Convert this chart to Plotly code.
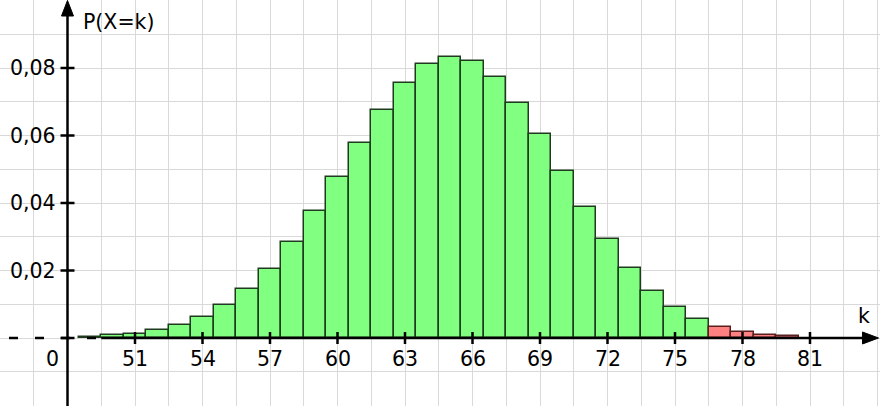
import plotly.graph_objects as go

# ---- data ----
k_green = [49, 50, 51, 52, 53, 54, 55, 56, 57, 58, 59, 60, 61, 62, 63, 64, 65, 66,
           67, 68, 69, 70, 71, 72, 73, 74, 75, 76]
p_green = [0.0004, 0.0008, 0.0013, 0.0024, 0.0040, 0.0063, 0.0097, 0.0144, 0.0205,
           0.0284, 0.0375, 0.0478, 0.0577, 0.0675, 0.0756, 0.0811, 0.0834, 0.0821,
           0.0773, 0.0697, 0.0603, 0.0496, 0.0389, 0.0292, 0.0206, 0.0140, 0.0091,
           0.0056]
k_red = [77, 78, 79, 80]
p_red = [0.0034, 0.0018, 0.0010, 0.0005]

x_ticks = [51, 54, 57, 60, 63, 66, 69, 72, 75, 78, 81]
x_tick_labels = [str(v) for v in x_ticks]
y_ticks = [0.02, 0.04, 0.06, 0.08]
y_tick_labels = ["0,02", "0,04", "0,06", "0,08"]
origin_label = "0"
x_title = "k"
y_title = "P(X=k)"

# ---- geometry (pixel scale of the reference) ----
W, H = 880, 406
px_per_k = 22.5
px_per_p = 3375.0
x_min = 45.0
x_max = x_min + W / px_per_k
y_max = 338.0 / px_per_p
y_min = -(H - 338.0) / px_per_p
y_axis_k = 48.0      # where the (broken) vertical axis sits
solid_start_k = 49.5

FONT = "DejaVu Sans"
fs = 20.5

fig = go.Figure()
fig.add_trace(go.Bar(x=k_green, y=p_green, width=1,
                     marker=dict(color="#80FF80", line=dict(color="#1f3a1f", width=1.5)),
                     hoverinfo="x+y"))
fig.add_trace(go.Bar(x=k_red, y=p_red, width=1,
                     marker=dict(color="#FF8080", line=dict(color="#5a1f1f", width=1.5)),
                     hoverinfo="x+y"))

shapes = []
# x axis: dashed break part and solid part
shapes.append(dict(type="line", xref="x", yref="y", x0=x_min + 9 / px_per_k, x1=solid_start_k,
                   y0=0, y1=0, line=dict(color="black", width=2.5, dash="9px,17px")))
shapes.append(dict(type="line", xref="x", yref="y", x0=solid_start_k, x1=x_max - 16 / px_per_k,
                   y0=0, y1=0, line=dict(color="black", width=2.5)))
# y axis
shapes.append(dict(type="line", xref="x", yref="y", x0=y_axis_k, x1=y_axis_k,
                   y0=y_min, y1=y_max - 14 / px_per_p, line=dict(color="black", width=2.5)))
# arrowheads (paper coords, margins are zero)
ax_px = (y_axis_k - x_min) * px_per_k
ay_px = 338.0
def P(px, py):
    return f"{px / W:.5f},{1 - py / H:.5f}"
shapes.append(dict(type="path", xref="paper", yref="paper",
                   path=f"M{P(ax_px, 0.5)} L{P(ax_px - 6, 16)} L{P(ax_px + 6, 16)} Z",
                   fillcolor="black", line=dict(color="black", width=1)))
shapes.append(dict(type="path", xref="paper", yref="paper",
                   path=f"M{P(878.5, ay_px)} L{P(862.5, ay_px - 6)} L{P(862.5, ay_px + 6)} Z",
                   fillcolor="black", line=dict(color="black", width=1)))
# tick marks
for t in x_ticks:
    shapes.append(dict(type="line", xref="x", yref="y", x0=t, x1=t,
                       ysizemode="pixel", yanchor=0, y0=-6, y1=6,
                       line=dict(color="black", width=2.5)))
for t in y_ticks + [0]:
    shapes.append(dict(type="line", xref="x", yref="y", y0=t, y1=t,
                       xsizemode="pixel", xanchor=y_axis_k, x0=-7, x1=7,
                       line=dict(color="black", width=2.5)))

annotations = []
for t, lab in zip(x_ticks, x_tick_labels):
    annotations.append(dict(x=t, y=0, xref="x", yref="y", text=lab, showarrow=False,
                            xanchor="center", yanchor="middle", yshift=-21,
                            font=dict(family=FONT, size=fs, color="black")))
for t, lab in zip(y_ticks, y_tick_labels):
    annotations.append(dict(x=y_axis_k, y=t, xref="x", yref="y", text=lab, showarrow=False,
                            xanchor="right", yanchor="middle", xshift=-10,
                            font=dict(family=FONT, size=fs, color="black")))
annotations.append(dict(x=y_axis_k, y=0, xref="x", yref="y", text=origin_label, showarrow=False,
                        xanchor="right", yanchor="middle", xshift=-7, yshift=-21,
                        font=dict(family=FONT, size=fs, color="black")))
annotations.append(dict(x=x_max, y=0, xref="x", yref="y", text=x_title, showarrow=False,
                        xanchor="center", yanchor="middle", xshift=-16, yshift=22,
                        font=dict(family=FONT, size=fs, color="black")))
annotations.append(dict(x=y_axis_k, y=y_max, xref="x", yref="y", text=y_title, showarrow=False,
                        xanchor="left", yanchor="middle", xshift=13, yshift=-22,
                        font=dict(family=FONT, size=fs, color="black")))

fig.update_layout(
    width=W, height=H,
    margin=dict(l=0, r=0, t=0, b=0, pad=0),
    paper_bgcolor="white", plot_bgcolor="white",
    showlegend=False, barmode="overlay", bargap=0,
    shapes=shapes, annotations=annotations,
    xaxis=dict(range=[x_min, x_max], tick0=x_min, dtick=1.5, showgrid=True,
               gridcolor="#d9d9d9", gridwidth=1, showticklabels=False, zeroline=False,
               ticks="", showline=False, fixedrange=True),
    yaxis=dict(range=[y_min, y_max], tick0=0, dtick=0.01, showgrid=True,
               gridcolor="#d9d9d9", gridwidth=1, showticklabels=False, zeroline=False,
               ticks="", showline=False, fixedrange=True),
)

fig.write_html("out.html", config={"displayModeBar": False},
               post_script="document.body.style.margin='0';document.body.style.overflow='hidden';")
